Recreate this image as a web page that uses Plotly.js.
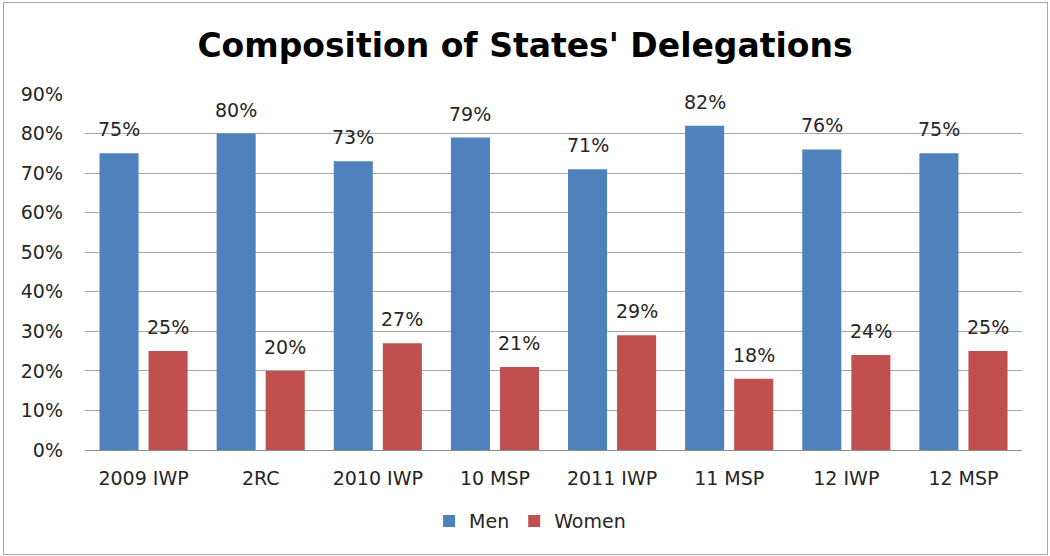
<!DOCTYPE html>
<html>
<head>
<meta charset="utf-8">
<script src="https://cdn.plot.ly/plotly-3.0.1.min.js"></script>
<style>
  html, body { margin: 0; padding: 0; background: #fff; }
  #wrap { position: relative; width: 1050px; height: 556px; }
  #chart { width: 1050px; height: 556px; }
  #frame { position: absolute; left: 3px; top: 2px; width: 1043px; height: 551px;
           border: 1px solid #a6a6a6; pointer-events: none; }
</style>
</head>
<body>
<div id="wrap"><div id="chart"></div><div id="frame"></div></div>
<script>
const categories = ["2009 IWP", "2RC", "2010 IWP", "10 MSP", "2011 IWP", "11 MSP", "12 IWP", "12 MSP"];
const men = [0.75, 0.80, 0.73, 0.79, 0.71, 0.82, 0.76, 0.75];
const women = [0.25, 0.20, 0.27, 0.21, 0.29, 0.18, 0.24, 0.25];
const yTicks = [0, 0.1, 0.2, 0.3, 0.4, 0.5, 0.6, 0.7, 0.8, 0.9];

const FONT = "'DejaVu Sans', Verdana, sans-serif";
const bargap = 0.162, bargroupgap = 0.204;
const slot = (1 - bargap) / 2;          // width of one bar slot in category units
const off = slot / 2;

const traces = [
  { type: "bar", name: "Men", x: categories, y: men,
    marker: { color: "#4F81BD" }, hoverinfo: "x+y" },
  { type: "bar", name: "Women", x: categories, y: women,
    marker: { color: "#C0504D" }, hoverinfo: "x+y" }
];

const annotations = [];
function addLabels(vals, dx) {
  vals.forEach((v, i) => {
    annotations.push({
      x: i + dx, y: v, xref: "x", yref: "y",
      text: Math.round(v * 100) + "%", showarrow: false,
      yanchor: "bottom", xanchor: "center", yshift: 11,
      font: { family: FONT, size: 19, color: "#262626" }
    });
  });
}
addLabels(men, -off);
addLabels(women, off);

const layout = {
  width: 1050, height: 556,
  margin: { l: 85, r: 28, t: 94, b: 106 },
  paper_bgcolor: "#ffffff", plot_bgcolor: "#ffffff",
  title: { text: "<b>Composition of States' Delegations</b>",
           font: { family: FONT, size: 33, color: "#000000" },
           x: 0.5, xanchor: "center", y: 0.918, yanchor: "middle", yref: "container" },
  barmode: "group", bargap: bargap, bargroupgap: bargroupgap,
  xaxis: { type: "category", showgrid: false, zeroline: false, showline: false,
           ticks: "", ticklabelstandoff: 15,
           tickfont: { family: FONT, size: 19, color: "#262626" },
           range: [-0.5, categories.length - 0.5] },
  yaxis: { range: [0, 0.9], tickvals: yTicks, tickformat: ".0%",
           showgrid: true, gridcolor: "#a6a6a6", gridwidth: 1,
           zeroline: true, zerolinecolor: "#8c8c8c", zerolinewidth: 1,
           showline: false, ticks: "", ticklabelstandoff: 21,
           tickfont: { family: FONT, size: 19, color: "#262626" } },
  legend: { orientation: "h", x: 0.475, xanchor: "center", y: -0.2, yanchor: "middle",
            font: { family: FONT, size: 19, color: "#262626" }, traceorder: "normal" },
  annotations: annotations,
  showlegend: true
};

Plotly.newPlot("chart", traces, layout, { displayModeBar: false, staticPlot: true });
</script>
</body>
</html>
